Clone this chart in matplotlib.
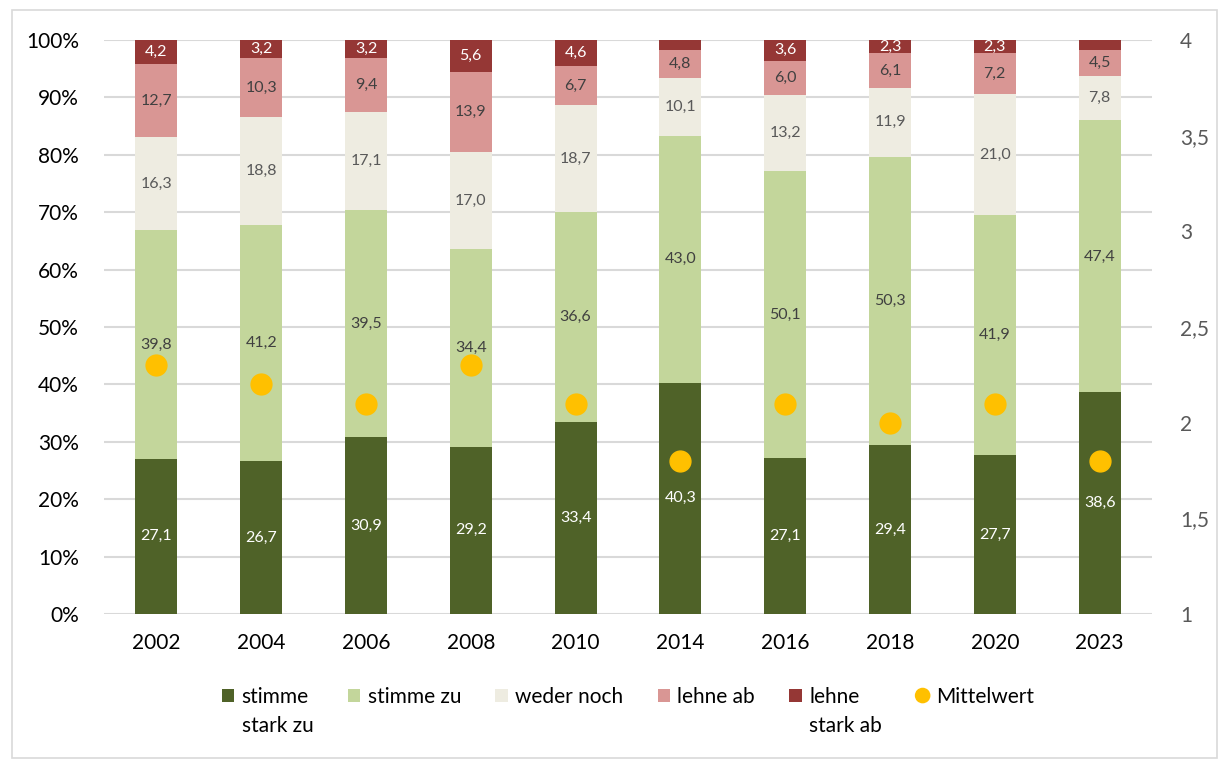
import matplotlib
matplotlib.use("Agg")
import matplotlib.pyplot as plt
import numpy as np
from matplotlib.patches import Rectangle, Ellipse
from matplotlib.legend_handler import HandlerBase
from matplotlib.lines import Line2D

years = ["2002", "2004", "2006", "2008", "2010", "2014", "2016", "2018", "2020", "2023"]
stimme_stark_zu = [27.1, 26.7, 30.9, 29.2, 33.4, 40.3, 27.1, 29.4, 27.7, 38.6]
stimme_zu = [39.8, 41.2, 39.5, 34.4, 36.6, 43.0, 50.1, 50.3, 41.9, 47.4]
weder_noch = [16.3, 18.8, 17.1, 17.0, 18.7, 10.1, 13.2, 11.9, 21.0, 7.8]
lehne_ab = [12.7, 10.3, 9.4, 13.9, 6.7, 4.8, 6.0, 6.1, 7.2, 4.5]
lehne_stark_ab = [4.2, 3.2, 3.2, 5.6, 4.6, 1.8, 3.6, 2.3, 2.3, 1.7]
mittelwert = [2.3, 2.2, 2.1, 2.3, 2.1, 1.8, 2.1, 2.0, 2.1, 1.8]
show_top_label = [True, True, True, True, True, False, True, True, True, False]

series_names = ["stimme\nstark zu", "stimme zu", "weder noch", "lehne ab", "lehne\nstark ab"]
series_colors = ["#4F6228", "#C3D69B", "#EEECE1", "#D99694", "#953735"]
label_colors = ["white", "#404040", "#595959", "#404040", "white"]
mean_name = "Mittelwert"
mean_color = "#FFC000"

plt.rcParams['font.family'] = ['Lato', 'DejaVu Sans']

LEG_FS = 15
LINESP = 1.6

fig = plt.figure(figsize=(12.2, 7.6), dpi=100)
fig.patches.append(Rectangle((12/1220, 2/760), 1205/1220, 748/760, transform=fig.transFigure,
                             fill=False, edgecolor="#D9D9D9", linewidth=1.2))
ax = fig.add_axes([104/1220, 1 - 614/760, 1048/1220, 574/760])

data = np.array([stimme_stark_zu, stimme_zu, weder_noch, lehne_ab, lehne_stark_ab])
totals = data.sum(axis=0)
pct = data / totals * 100
x = np.arange(len(years))
bottom = np.zeros(len(years))
handles = []
for i in range(len(series_names)):
    bars = ax.bar(x, pct[i], 0.4, bottom=bottom, color=series_colors[i], label=series_names[i], zorder=2)
    handles.append(bars)
    for j in range(len(years)):
        if i == 4 and not show_top_label[j]:
            continue
        ax.text(x[j], bottom[j] + pct[i][j] / 2, f"{data[i][j]:.1f}".replace(".", ","),
                ha="center", va="center", fontsize=11.5, color=label_colors[i], zorder=4)
    bottom += pct[i]

ax.set_xlim(-0.5, len(years) - 0.5)
ax.set_ylim(0, 100)
ax.set_yticks(np.arange(0, 101, 10))
ax.set_yticklabels([f"{v}%" for v in range(0, 101, 10)])
ax.set_xticks(x)
ax.set_xticklabels(years)
ax.grid(axis="y", color="#D9D9D9", linewidth=1.5, zorder=0)
ax.set_axisbelow(True)
for s in ax.spines.values():
    s.set_visible(False)
ax.tick_params(axis="both", length=0, labelsize=15, colors="#000000")
ax.tick_params(axis="y", pad=18)
ax.tick_params(axis="x", pad=14)

ax2 = ax.twinx()
ax2.set_ylim(1, 4)
ax2.set_yticks([1, 1.5, 2, 2.5, 3, 3.5, 4])
ax2.set_yticklabels(["1", "1,5", "2", "2,5", "3", "3,5", "4"])
ax2.tick_params(axis="y", length=0, labelsize=15, colors="#595959", pad=20)
for s in ax2.spines.values():
    s.set_visible(False)
pts, = ax2.plot(x, mittelwert, linestyle="none", marker="o", markersize=15,
                color=mean_color, label=mean_name, zorder=5)


class ShiftedHandler(HandlerBase):
    def create_artists(self, legend, orig_handle, xdescent, ydescent, width, height, fontsize, trans):
        shift = 0.5 * LINESP * fontsize
        if isinstance(orig_handle, Line2D):
            d = fontsize * 0.75
            art = Ellipse((-xdescent + width / 2, -ydescent + height / 2 + shift), d, d,
                          facecolor=orig_handle.get_color(), edgecolor="none", transform=trans)
        else:
            fc = orig_handle.patches[0].get_facecolor()
            art = Rectangle((-xdescent, -ydescent + shift), width, height,
                            facecolor=fc, edgecolor="none", transform=trans)
        return [art]


def two_lines(s):
    return s if "\n" in s else s + "\n "


leg_labels = [two_lines(s) for s in series_names + [mean_name]]
leg = fig.legend(handles + [pts], leg_labels, loc="upper center",
                 bbox_to_anchor=(628/1220, 1 - 668/760), ncol=6, frameon=False, fontsize=LEG_FS,
                 handlelength=0.6, handleheight=0.6, handletextpad=0.35, columnspacing=1.65,
                 handler_map={type(handles[0]): ShiftedHandler(), Line2D: ShiftedHandler()})
for t in leg.get_texts():
    t.set_linespacing(LINESP)

fig.savefig("out.png", dpi=100)
